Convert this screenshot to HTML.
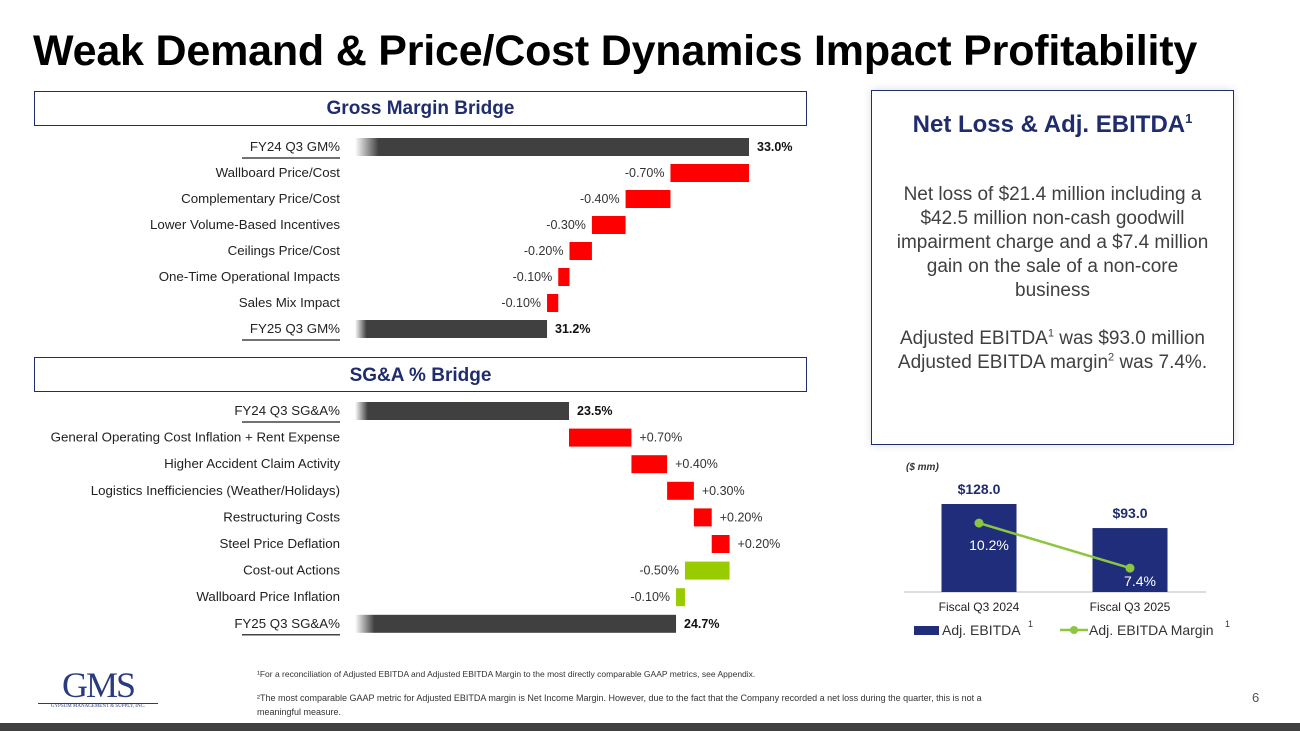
<!DOCTYPE html>
<html><head><meta charset="utf-8">
<style>
body{margin:0;width:1300px;height:731px;background:#fff;font-family:"Liberation Sans",sans-serif;position:relative;overflow:hidden}
svg{position:absolute;left:0;top:0}
.t{font-family:"Liberation Sans",sans-serif}
.box{position:absolute;border:1px solid #1f2d6e;background:#fff}
</style></head><body>
<div style="position:absolute;left:33px;top:27px;font-size:43px;font-weight:bold;color:#000;letter-spacing:-0.2px">Weak Demand &amp; Price/Cost Dynamics Impact Profitability</div>
<div class="box" style="left:34px;top:91px;width:771px;height:33px;text-align:center;line-height:33px;font-size:19px;font-weight:bold;color:#1f2d6e">Gross Margin Bridge</div>
<div class="box" style="left:34px;top:357px;width:771px;height:33px;text-align:center;line-height:35px;font-size:19px;font-weight:bold;color:#1f2d6e">SG&amp;A % Bridge</div>
<div class="box" style="left:871px;top:90px;width:361px;height:353px;box-shadow:0 0 8px #ddd">
 <div style="text-align:center;margin-top:20px;font-size:24px;font-weight:bold;color:#1f2d6e">Net Loss &amp; Adj. EBITDA<sup style="font-size:13px">1</sup></div>
 <div style="text-align:center;margin:44px 10px 0;font-size:19px;line-height:24px;color:#404040">Net loss of $21.4 million including a $42.5 million non-cash goodwill impairment charge and a $7.4 million gain on the sale of a non-core<br>business<br><br>Adjusted EBITDA<sup style="font-size:11px;line-height:0">1</sup> was $93.0 million Adjusted EBITDA margin<sup style="font-size:11px;line-height:0">2</sup> was 7.4%.</div>
</div>
<svg id="s" width="1300" height="731">
<defs><linearGradient id="g" x1="0" x2="1"><stop offset="0" stop-color="#404040" stop-opacity="0"/><stop offset="0.06" stop-color="#404040"/></linearGradient></defs>
</svg>
<div style="position:absolute;left:257px;top:669px;font-size:8.5px;color:#333">¹For a reconciliation of Adjusted EBITDA and Adjusted EBITDA Margin to the most directly comparable GAAP metrics, see Appendix.</div>
<div style="position:absolute;left:257px;top:691px;width:920px;font-size:9px;line-height:14px;color:#333">²The most comparable GAAP metric for Adjusted EBITDA margin is Net Income Margin.  However, due to the fact that the Company recorded a net loss during the quarter, this is not a<br>meaningful measure.</div>
<div style="position:absolute;left:1252px;top:690px;font-size:13px;color:#555">6</div>
<div style="position:absolute;left:38px;top:668px;width:120px;text-align:center;color:#2a3a80">
 <div style="font-family:'Liberation Serif',serif;font-size:36px;line-height:34px;letter-spacing:-2px">GMS</div>
 <div style="font-family:'Liberation Serif',serif;font-size:5px;border-top:1px solid #2a3a80;margin:1px 0 0">GYPSUM MANAGEMENT &amp; SUPPLY, INC.</div>
</div>
<div style="position:absolute;left:0;top:723px;width:1300px;height:8px;background:#404040"></div>
<script>
const gmLabels=["FY24 Q3 GM%","Wallboard Price/Cost","Complementary Price/Cost","Lower Volume-Based Incentives","Ceilings Price/Cost","One-Time Operational Impacts","Sales Mix Impact","FY25 Q3 GM%"];
const gmValues=[33.0,-0.7,-0.4,-0.3,-0.2,-0.1,-0.1,31.2];
const gmText=["33.0%","-0.70%","-0.40%","-0.30%","-0.20%","-0.10%","-0.10%","31.2%"];
const sgLabels=["FY24 Q3 SG&A%","General Operating Cost Inflation + Rent Expense","Higher Accident Claim Activity","Logistics Inefficiencies (Weather/Holidays)","Restructuring Costs","Steel Price Deflation","Cost-out Actions","Wallboard Price Inflation","FY25 Q3 SG&A%"];
const sgValues=[23.5,0.7,0.4,0.3,0.2,0.2,-0.5,-0.1,24.7];
const sgText=["23.5%","+0.70%","+0.40%","+0.30%","+0.20%","+0.20%","-0.50%","-0.10%","24.7%"];
const ebCats=["Fiscal Q3 2024","Fiscal Q3 2025"];
const ebValues=[128.0,93.0];
const ebText=["$128.0","$93.0"];
const mgValues=[10.2,7.4];
const mgText=["10.2%","7.4%"];
const svg=document.getElementById('s');const NS="http://www.w3.org/2000/svg";
function mk(t,a,txt){const e=document.createElementNS(NS,t);for(const k in a)e.setAttribute(k,a[k]);if(txt!=null)e.textContent=txt;svg.appendChild(e);return e;}
function bridge(name,labels,values,texts,x0,ref,scale,y0,dy,upBad){
 const X=v=>x0+(v-ref)*scale;
 let run=values[0];const n=values.length;
 for(let i=0;i<n;i++){
  const y=y0+i*dy;const total=(i==0||i==n-1);
  const lab=mk('text',{x:340,y:y+4,'text-anchor':'end','font-size':13.3,fill:'#222',class:'t'},labels[i]);
  
  
  let xa,xb,col,txtX,anchor,bold=false;
  if(total){xa=355;xb=X(values[i]);col='url(#g)';txtX=xb+8;anchor='start';bold=true;}
  else{const a=run,b=run+values[i];run=b;xa=X(Math.min(a,b));xb=X(Math.max(a,b));
   const bad=upBad?values[i]>0:values[i]<0;col=bad?'#ff0000':'#99cc00';
   if(values[i]>0){txtX=xb+8;anchor='start';}else{txtX=xa-6;anchor='end';}}
  const r=mk('rect',{x:xa,y:y-9,width:Math.max(1,xb-xa),height:18,fill:col});
  
  
  const v=mk('text',{x:txtX,y:y+4,'text-anchor':anchor,'font-size':12.5,'font-weight':bold?'bold':'normal',fill:bold?'#111':'#333',class:'t'},texts[i]);
  
  
  if(total){const u=mk('line',{x1:242,x2:340,y1:y+11,y2:y+11,stroke:'#444','stroke-width':1.5});
   
   }
 }
}
bridge('gm',gmLabels,gmValues,gmText,749,33.0,112.2,147,26,false);
bridge('sga',sgLabels,sgValues,sgText,569,23.5,89.2,411,26.6,true);
const base=592,bs=0.6875,cx=[979,1130],bw=75;
const mY=v=>687-v*16.07;
const ax=mk('line',{x1:904,x2:1206,y1:base,y2:base,stroke:'#bbb'});


const unit=mk('text',{x:906,y:470,'font-size':10,'font-style':'italic','font-weight':'bold',fill:'#333',class:'t'},'($ mm)');


for(let i=0;i<ebValues.length;i++){
 const h=ebValues[i]*bs;
 const r=mk('rect',{x:cx[i]-bw/2,y:base-h,width:bw,height:h,fill:'#1f2d7a'});
 
 
 const t=mk('text',{x:cx[i],y:base-h-10,'text-anchor':'middle','font-size':14,'font-weight':'bold',fill:'#1f2d6e',class:'t'},ebText[i]);
 
 
 const c=mk('text',{x:cx[i],y:611,'text-anchor':'middle','font-size':12,fill:'#222',class:'t'},ebCats[i]);
 
 
}
const ln=mk('polyline',{points:mgValues.map((v,i)=>cx[i]+','+mY(v)).join(' '),fill:'none',stroke:'#8cc63f','stroke-width':2.5});


for(let i=0;i<mgValues.length;i++){
 const p=mk('circle',{cx:cx[i],cy:mY(mgValues[i]),r:4.5,fill:'#8cc63f'});
 
 
 const t=mk('text',{x:cx[i]+10,y:Math.min(mY(mgValues[i])+27,base-6),'text-anchor':'middle','font-size':14,fill:'#fff',class:'t'},mgText[i]);
 
 
}
const lg1=mk('rect',{x:914,y:626,width:25,height:9,fill:'#1f2d7a'});


const lt1=mk('text',{x:942,y:635,'font-size':14,fill:'#333',class:'t'},'Adj. EBITDA');


const ls1=mk('text',{x:1028,y:627,'font-size':9,fill:'#333',class:'t'},'1');


const lg2=mk('line',{x1:1060,x2:1088,y1:630,y2:630,stroke:'#8cc63f','stroke-width':2.5});


const lc2=mk('circle',{cx:1074,cy:630,r:4,fill:'#8cc63f'});


const lt2=mk('text',{x:1089,y:635,'font-size':14,fill:'#333',class:'t'},'Adj. EBITDA Margin');


const ls2=mk('text',{x:1225,y:627,'font-size':9,fill:'#333',class:'t'},'1');


</script>
</body></html>
